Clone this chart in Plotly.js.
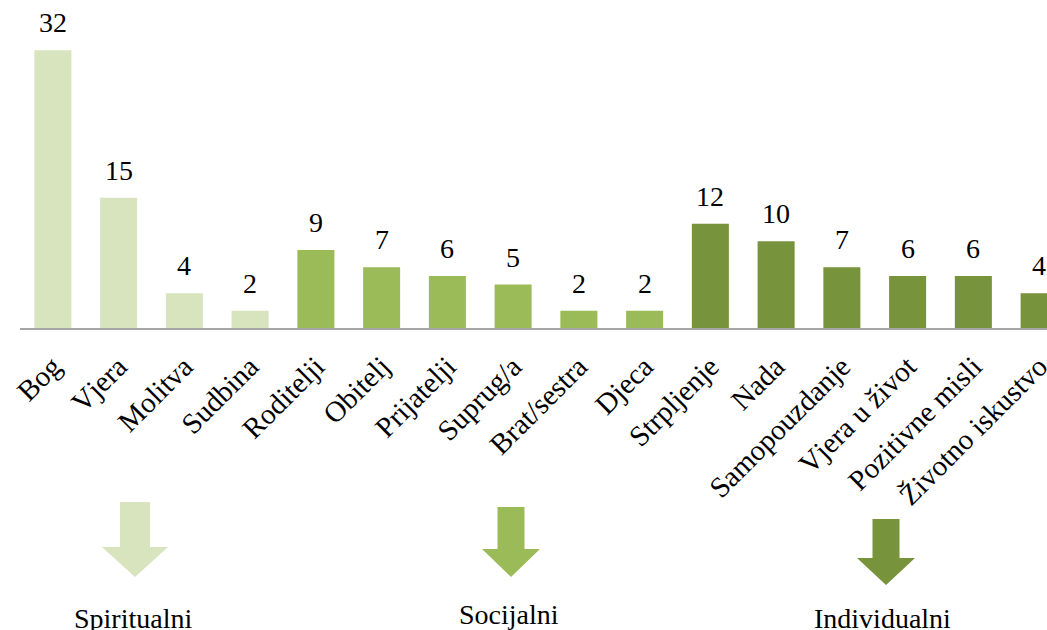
<!DOCTYPE html>
<html>
<head>
<meta charset="utf-8">
<script src="https://cdn.plot.ly/plotly-3.0.1.min.js"></script>
<style>
html,body{margin:0;padding:0;overflow:hidden;background:#fff;}
#chart{width:1047px;height:630px;}
</style>
</head>
<body>
<div id="chart"></div>
<script>
// Data
var categories = ["Bog","Vjera","Molitva","Sudbina","Roditelji","Obitelj","Prijatelji","Suprug/a","Brat/sestra","Djeca","Strpljenje","Nada","Samopouzdanje","Vjera u život","Pozitivne misli","Životno iskustvo"];
var values = [32,15,4,2,9,7,6,5,2,2,12,10,7,6,6,4];
var groups = ["Spiritualni","Spiritualni","Spiritualni","Spiritualni","Socijalni","Socijalni","Socijalni","Socijalni","Socijalni","Socijalni","Individualni","Individualni","Individualni","Individualni","Individualni","Individualni"];
var groupNames = ["Spiritualni","Socijalni","Individualni"];
var groupColors = {"Spiritualni":"#d7e4bd","Socijalni":"#9bbb59","Individualni":"#77933c"};

var W = 1047, H = 630;
var M = {l:20, r:0, t:0, b:302};
var PW = W - M.l - M.r, PH = H - M.t - M.b;
function px(x){ return (x - M.l)/PW; }
function py(y){ return (H - M.b - y)/PH; }

var FONT = "Liberation Serif";

var trace = {
  type: 'bar',
  x: categories,
  y: values,
  marker: {color: groups.map(function(g){return groupColors[g];})},
  hoverinfo: 'x+y'
};

var annotations = categories.map(function(c, i){
  return {x: c, y: values[i], xref:'x', yref:'y', text: String(values[i]),
    showarrow:false, yanchor:'bottom', yshift:10,
    font:{family:FONT, size:28, color:'#000'}};
});

// arrows (decorative), pixel geometry
var arrowGeom = [
  {name:"Spiritualni", cx:135, sw:30, hw:66, top:502, base:547, tip:577, lx:133, ly:618},
  {name:"Socijalni", cx:511, sw:27, hw:58, top:507, base:549, tip:577, lx:509, ly:614},
  {name:"Individualni", cx:886, sw:27, hw:58, top:519, base:558, tip:585, lx:882, ly:618}
];
var shapes = [];
arrowGeom.forEach(function(a){
  var s = a.sw/2, h = a.hw/2;
  var pts = [[a.cx-s,a.top],[a.cx+s,a.top],[a.cx+s,a.base],[a.cx+h,a.base],[a.cx,a.tip],[a.cx-h,a.base],[a.cx-s,a.base]];
  var path = pts.map(function(p,i){return (i?'L':'M')+px(p[0]).toFixed(5)+','+py(p[1]).toFixed(5);}).join(' ')+' Z';
  shapes.push({type:'path', xref:'paper', yref:'paper', path:path,
    fillcolor:groupColors[a.name], line:{width:0}, layer:'above'});
  annotations.push({xref:'paper', yref:'paper', x:px(a.lx), y:py(a.ly), text:a.name,
    showarrow:false, xanchor:'center', yanchor:'middle',
    font:{family:FONT, size:28, color:'#000'}});
});

var layout = {
  width: W, height: H,
  margin: M,
  paper_bgcolor:'#fff', plot_bgcolor:'#fff',
  showlegend:false,
  bargap: 0.437,
  font:{family:FONT, color:'#000'},
  xaxis: {
    range:[-0.5, 15.12], fixedrange:true,
    showline:true, linecolor:'#a6a6a6', linewidth:2,
    ticks:'', tickangle:-45, ticklabelstandoff:8,
    tickfont:{family:FONT, size:29, color:'#000'},
    showgrid:false, zeroline:false
  },
  yaxis: {
    range:[0, 37.8], showgrid:false, zeroline:false, showticklabels:false,
    showline:false, ticks:''
  },
  annotations: annotations,
  shapes: shapes
};

Plotly.newPlot('chart', [trace], layout, {displayModeBar:false, staticPlot:true});
</script>
</body>
</html>
